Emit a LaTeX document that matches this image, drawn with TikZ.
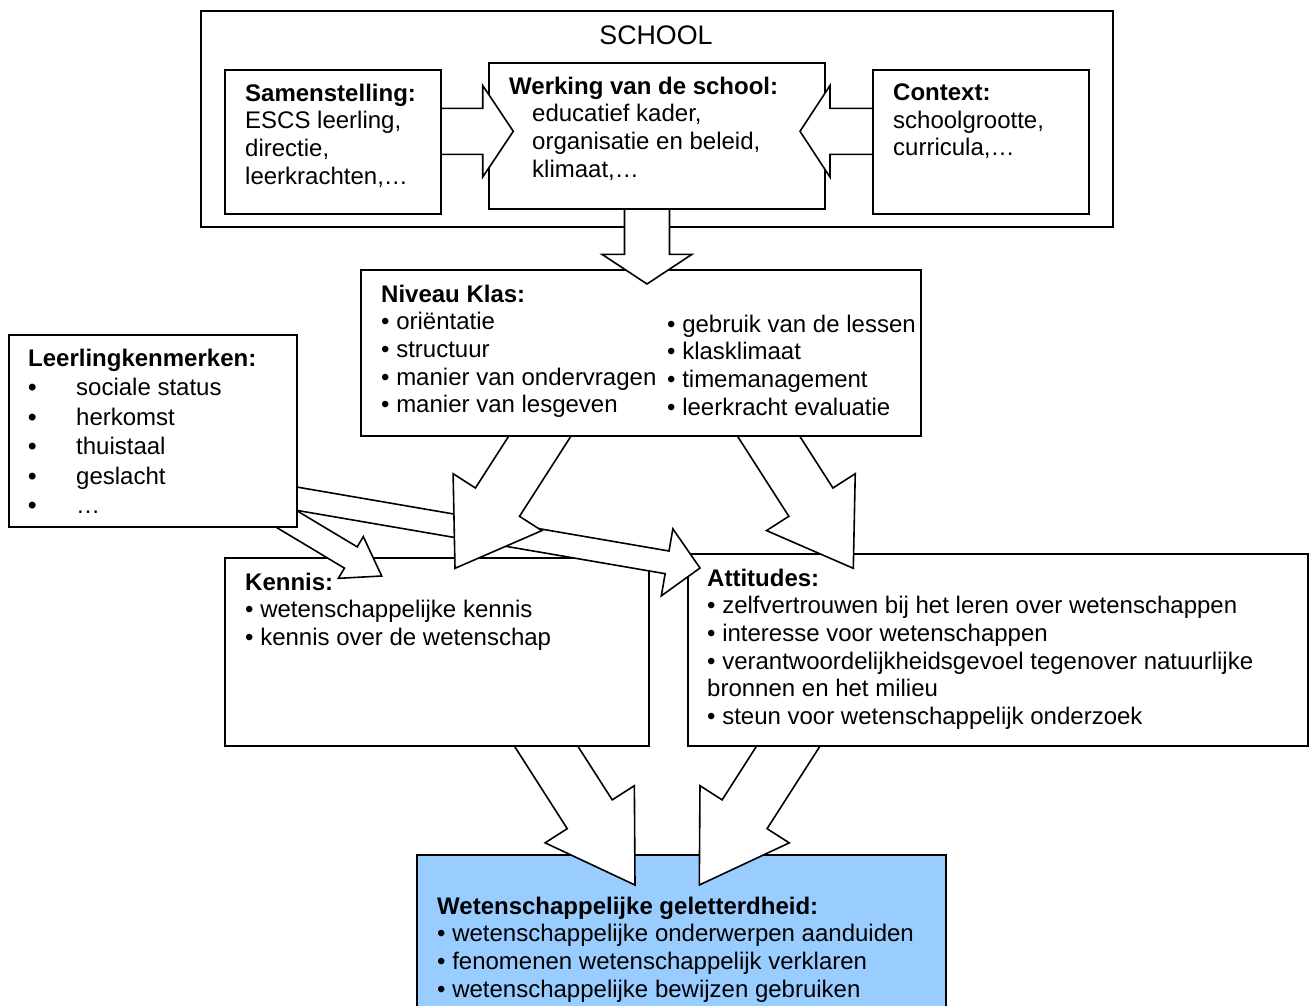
\documentclass[tikz,border=0pt]{standalone}
\usepackage{fontspec}
\setmainfont{Liberation Sans}
\usetikzlibrary{calc}

\definecolor{litblue}{HTML}{99CCFF}

\tikzset{
  box/.style={draw, fill=white, line width=1.8pt, inner sep=0pt, anchor=north west},
  txt/.style={align=left, inner sep=0pt, anchor=north west},
  barrow/.style={draw, fill=white, line width=1.6pt, line join=miter},
}

% block arrow: tail, tip, shaft half width, head half width, head length
\newcommand{\blockarrow}[5]{%
  \coordinate (hb) at ($(#2)!#5!(#1)$);
  \draw[barrow] ($(#1)!#3!90:(#2)$) -- ($(hb)!#3!90:(#2)$) -- ($(hb)!#4!90:(#2)$) -- (#2)
    -- ($(hb)!#4!-90:(#2)$) -- ($(hb)!#3!-90:(#2)$) -- ($(#1)!#3!-90:(#2)$) -- cycle;
}

\begin{document}
\begin{tikzpicture}[x=1pt, y=-1pt, every node/.style={font=\fontsize{24}{27.7}\selectfont}]
  \path[use as bounding box, clip] (0,0) rectangle (1309,1005);

  % School
  \node[box, minimum width=912pt, minimum height=216pt] (school) at (200,10) {};
  \node[font=\fontsize{26.8}{30}\selectfont] (schooltxt) at (656,35) {SCHOOL};

  % Outcome
  \node[box, fill=litblue, minimum width=529pt, minimum height=180pt] (geletterd) at (416,854) {};
  \node[txt] (geletterdtxt) at (437,896.5) {\textbf{Wetenschappelijke geletterdheid:}\\
    • wetenschappelijke onderwerpen aanduiden\\
    • fenomenen wetenschappelijk verklaren\\
    • wetenschappelijke bewijzen gebruiken};

  % Arrows to outcome
  \coordinate (k2g-tail) at (529.4,720);
  \coordinate (k2g-tip) at (635,885);
  \coordinate (a2g-tail) at (805,720);
  \coordinate (a2g-tip) at (699.3,885);
  \blockarrow{k2g-tail}{k2g-tip}{26.7pt}{53pt}{84pt}
  \blockarrow{a2g-tail}{a2g-tip}{26.7pt}{53pt}{84pt}

  % Kennis and attitudes
  \node[box, minimum width=424pt, minimum height=188pt] (kennis) at (224,557) {};
  \node[txt] (kennistxt) at (245,572.5) {\textbf{Kennis:}\\
    • wetenschappelijke kennis\\
    • kennis over de wetenschap};
  \node[box, minimum width=620pt, minimum height=192pt] (attitudes) at (687,553) {};
  \node[txt] (attitudestxt) at (707,568.5) {\textbf{Attitudes:}\\
    • zelfvertrouwen bij het leren over wetenschappen\\
    • interesse voor wetenschappen\\
    • verantwoordelijkheidsgevoel tegenover natuurlijke\\
    bronnen en het milieu\\
    • steun voor wetenschappelijk onderzoek};

  % Arrows from leerling
  \coordinate (l2k-tail) at (270.2,509.2);
  \coordinate (l2k-tip) at (381.7,576);
  \coordinate (l2a-tail) at (280,495.8);
  \coordinate (l2a-tip) at (700,568);
  \blockarrow{l2k-tail}{l2k-tip}{12.4pt}{24.3pt}{36pt}
  \blockarrow{l2a-tail}{l2a-tip}{11.5pt}{34pt}{33.4pt}

  % Arrows from klas
  \coordinate (n2k-tail) at (556.6,410);
  \coordinate (n2k-tip) at (455,568.3);
  \coordinate (n2a-tail) at (751.8,410);
  \coordinate (n2a-tip) at (853.3,568.3);
  \blockarrow{n2k-tail}{n2k-tip}{26.2pt}{52.7pt}{78.6pt}
  \blockarrow{n2a-tail}{n2a-tip}{26.2pt}{52.7pt}{78.6pt}

  % Klas and leerling
  \node[box, minimum width=560pt, minimum height=166pt] (klas) at (360,269) {};
  \node[txt] (klastxt) at (381,284.5) {\textbf{Niveau Klas:}\\
    • oriëntatie\\
    • structuur\\
    • manier van ondervragen\\
    • manier van lesgeven};
  \node[txt] (klastxt2) at (667,314.5) {• gebruik van de lessen\\
    • klasklimaat\\
    • timemanagement\\
    • leerkracht evaluatie};
  \node[box, minimum width=288pt, minimum height=192pt] (leerling) at (8,334) {};
  \node[txt] (leerlingtxt) at (28,348.5) {\textbf{Leerlingkenmerken:}\\[1.8pt]
    \makebox[48pt][l]{\textbf{•}}sociale status\\[1.8pt]
    \makebox[48pt][l]{\textbf{•}}herkomst\\[1.8pt]
    \makebox[48pt][l]{\textbf{•}}thuistaal\\[1.8pt]
    \makebox[48pt][l]{\textbf{•}}geslacht\\[1.8pt]
    \makebox[48pt][l]{\textbf{•}}…};

  % Werking to klas
  \coordinate (w2n-tail) at (647,195);
  \coordinate (w2n-tip) at (647,284);
  \blockarrow{w2n-tail}{w2n-tip}{22.5pt}{45pt}{29.7pt}

  \node[box, minimum width=336pt, minimum height=146pt] (werking) at (488,62) {};
  \node[txt] (werkingtxt) at (509,76.5) {\textbf{Werking van de school:}\\
    \hspace*{23pt}educatief kader,\\
    \hspace*{23pt}organisatie en beleid,\\
    \hspace*{23pt}klimaat,…};

  % Side arrows
  \coordinate (s2w-tail) at (430,131.3);
  \coordinate (s2w-tip) at (513.3,131.3);
  \coordinate (c2w-tail) at (885,131.3);
  \coordinate (c2w-tip) at (800,131.3);
  \blockarrow{s2w-tail}{s2w-tip}{23pt}{45.8pt}{30.6pt}
  \blockarrow{c2w-tail}{c2w-tip}{23pt}{45.8pt}{30pt}

  \node[box, minimum width=216pt, minimum height=144pt] (samen) at (224,69) {};
  \node[txt] (samentxt) at (245,83.5) {\textbf{Samenstelling:}\\
    ESCS leerling,\\
    directie,\\
    leerkrachten,…};
  \node[box, minimum width=216pt, minimum height=144pt] (context) at (872,69) {};
  \node[txt] (contexttxt) at (893,83.5) {\textbf{Context:}\\
    schoolgrootte,\\
    curricula,…};
\end{tikzpicture}
\end{document}
